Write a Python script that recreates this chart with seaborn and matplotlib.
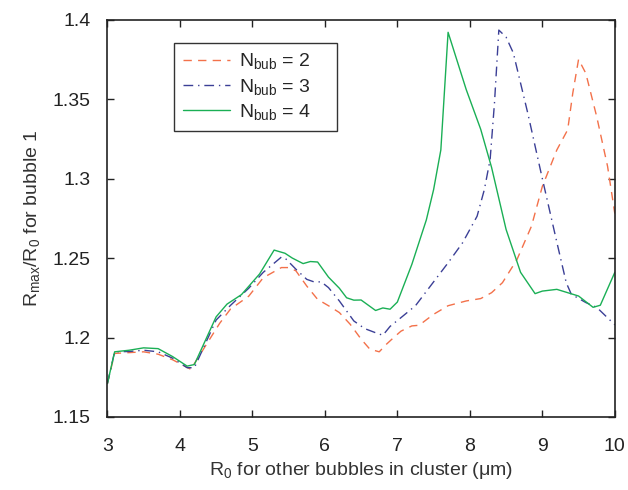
import numpy as np
import pandas as pd
import matplotlib
matplotlib.use("Agg")
import matplotlib.pyplot as plt
import seaborn as sns

# ---- data ----
x_n2 = [3.0, 3.1, 3.3, 3.5, 3.7, 3.9, 4.15, 4.55, 4.7, 4.95, 5.15, 5.4, 5.5, 5.6, 5.75,
        5.9, 6.05, 6.2, 6.35, 6.5, 6.62, 6.75, 6.85, 6.95, 7.05, 7.2, 7.3, 7.5, 7.7, 7.95,
        8.15, 8.3, 8.45, 8.65, 8.85, 9.0, 9.2, 9.35, 9.42, 9.5, 9.6, 9.75, 9.9, 10.0]
y_n2 = [1.171, 1.190, 1.1905, 1.191, 1.1895, 1.186, 1.180, 1.209, 1.218, 1.226, 1.2376,
        1.244, 1.244, 1.242, 1.2324, 1.224, 1.220, 1.2157, 1.2083, 1.199, 1.1927, 1.191,
        1.1958, 1.200, 1.204, 1.2073, 1.2077, 1.2146, 1.220, 1.223, 1.2245, 1.2282, 1.2345,
        1.249, 1.270, 1.295, 1.318, 1.3307, 1.3537, 1.375, 1.3662, 1.339, 1.3077, 1.278]

x_n3 = [3.0, 3.1, 3.3, 3.5, 3.7, 3.9, 4.1, 4.2, 4.5, 4.7, 4.95, 5.15, 5.4, 5.45, 5.6,
        5.75, 5.85, 5.95, 6.05, 6.2, 6.4, 6.55, 6.7, 6.8, 6.9, 7.05, 7.25, 7.7, 7.9, 8.1,
        8.2, 8.28, 8.34, 8.4, 8.5, 8.6, 8.8, 9.0, 9.2, 9.33, 9.4, 9.6, 9.75, 10.0]
y_n3 = [1.171, 1.191, 1.1912, 1.192, 1.191, 1.187, 1.181, 1.181, 1.211, 1.2203, 1.231,
        1.241, 1.2506, 1.250, 1.243, 1.2366, 1.235, 1.235, 1.2314, 1.223, 1.2104, 1.2056,
        1.203, 1.2014, 1.207, 1.2125, 1.220, 1.247, 1.2596, 1.2763, 1.293, 1.312, 1.3476,
        1.3934, 1.389, 1.379, 1.341, 1.300, 1.260, 1.2345, 1.2272, 1.222, 1.219, 1.208]

x_n4 = [3.0, 3.1, 3.3, 3.5, 3.7, 3.9, 4.1, 4.2, 4.5, 4.65, 4.85, 5.1, 5.3, 5.45, 5.55,
        5.7, 5.8, 5.9, 6.05, 6.2, 6.3, 6.4, 6.5, 6.7, 6.8, 6.9, 7.0, 7.2, 7.4, 7.5, 7.6,
        7.7, 7.95, 8.15, 8.3, 8.5, 8.7, 8.9, 9.0, 9.2, 9.5, 9.7, 9.8, 10.0]
y_n4 = [1.171, 1.191, 1.192, 1.1935, 1.193, 1.188, 1.182, 1.183, 1.213, 1.221, 1.227,
        1.240, 1.255, 1.253, 1.250, 1.2465, 1.2478, 1.2475, 1.238, 1.231, 1.225, 1.2235,
        1.2236, 1.217, 1.2186, 1.2178, 1.2223, 1.246, 1.274, 1.293, 1.318, 1.392, 1.356,
        1.331, 1.307, 1.268, 1.241, 1.2276, 1.2292, 1.2303, 1.2261, 1.219, 1.2203, 1.241]

labels = ["N$_{bub}$ = 2", "N$_{bub}$ = 3", "N$_{bub}$ = 4"]
x_ticks = [3, 4, 5, 6, 7, 8, 9, 10]
y_ticks = [1.15, 1.2, 1.25, 1.3, 1.35, 1.4]
y_tick_labels = ["1.15", "1.2", "1.25", "1.3", "1.35", "1.4"]

df = pd.concat([
    pd.DataFrame({"x": x_n2, "y": y_n2, "series": labels[0]}),
    pd.DataFrame({"x": x_n3, "y": y_n3, "series": labels[1]}),
    pd.DataFrame({"x": x_n4, "y": y_n4, "series": labels[2]}),
], ignore_index=True)

# ---- style ----
sns.set_style("ticks")
plt.rcParams["font.family"] = ["Liberation Sans", "DejaVu Sans"]
plt.rcParams["mathtext.fontset"] = "custom"
plt.rcParams["mathtext.rm"] = "Liberation Sans"
plt.rcParams["mathtext.it"] = "Liberation Sans"
plt.rcParams["mathtext.default"] = "rm"

palette = {labels[0]: "#f3714a", labels[1]: "#3b3f96", labels[2]: "#1aaf55"}
dashes = {labels[0]: (6, 4.5), labels[1]: (7, 3.5, 1, 3.5), labels[2]: ""}

fig = plt.figure(figsize=(6.28, 4.90), dpi=100)
ax = fig.add_axes([0.171, 0.149, 0.808, 0.811])

sns.lineplot(data=df, x="x", y="y", hue="series", style="series",
             palette=palette, dashes=dashes, linewidth=1.0, ax=ax,
             sort=False, estimator=None)

ax.set_xlim(3, 10)
ax.set_ylim(1.15, 1.4)
ax.set_xticks(x_ticks)
ax.set_yticks(y_ticks)
ax.set_yticklabels(y_tick_labels)
ax.tick_params(direction="in", length=5, width=1.0, top=True, right=True,
               labelsize=14, colors="#222222")
ax.tick_params(axis="x", pad=15)
ax.tick_params(axis="y", pad=12)
for s in ax.spines.values():
    s.set_linewidth(1.2)
    s.set_color("#222222")

ax.set_xlabel("R$_0$ for other bubbles in cluster (μm)", fontsize=14, color="#333333", labelpad=4)
ax.set_ylabel("R$_{max}$/R$_0$ for bubble 1", fontsize=14, color="#333333", labelpad=8)

leg = ax.legend(loc="upper left", bbox_to_anchor=(0.132, 0.5, 0.321, 0.442),
                mode="expand", fontsize=14,
                frameon=True, fancybox=False, edgecolor="#333333", framealpha=1,
                handlelength=2.4, borderpad=0.45, labelspacing=0.28, handletextpad=0.45,
                borderaxespad=0)
leg.get_frame().set_linewidth(1.0)

fig.savefig("out.png", dpi=100)
